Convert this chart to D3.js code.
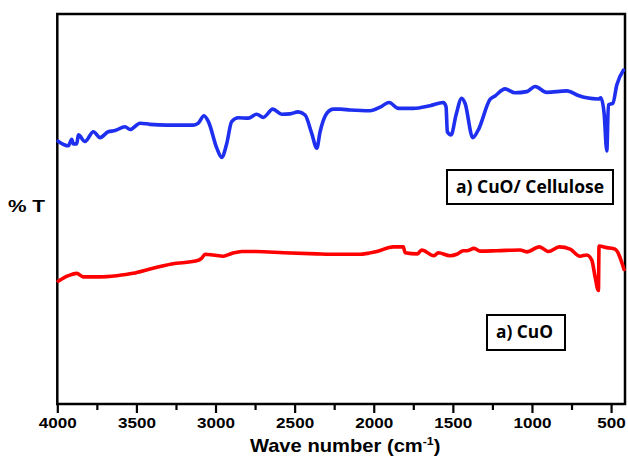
<!DOCTYPE html>
<html>
<head>
<meta charset="utf-8">
<script src="https://cdn.jsdelivr.net/npm/d3@7"></script>
<style>
  html, body { margin: 0; padding: 0; background: #fff; }
  svg { display: block; }
</style>
</head>
<body>
<svg id="chart" width="628" height="458"></svg>
<script>
// ---- data ----
const blueWave = [3995,3930,3909,3899,3877,3867,3825,3772,3730,3678,3635,3572,3540,3477,3414,3308,3140,3109,3073,3045,2992,2961,2929,2898,2856,2793,2740,2698,2638,2582,2529,2477,2434,2392,2360,2339,2297,2255,2213,2150,2023,1960,1903,1844,1750,1644,1560,1543,1535,1511,1480,1444,1423,1374,1339,1265,1233,1170,1107,1033,980,906,780,707,654,580,565,544,527,517,489,464,422];
const blueT = [67.4,66.2,67.9,66.7,66.7,69.0,67.3,69.8,68.3,69.8,70.1,71.1,70.4,72.0,71.7,71.5,71.5,72.0,73.9,72.4,65.6,63.2,66.8,72.4,73.4,73.3,74.3,73.5,75.6,74.3,74.4,74.9,74.1,69.4,65.6,69.8,74.5,75.6,75.6,75.4,75.2,76.1,77.3,75.8,75.8,76.5,77.3,76.2,69.8,69.0,74.1,78.4,77.1,68.3,70.3,78.1,79.0,80.8,79.8,80.1,81.4,79.9,80.3,79.1,78.5,78.2,78.5,74.5,64.9,76.7,77.1,81.8,85.6];

const redWave = [3994,3930,3877,3836,3730,3625,3520,3414,3277,3119,3087,3066,3014,2951,2898,2834,2740,2571,2360,2276,2087,1981,1876,1813,1802,1724,1697,1619,1592,1518,1475,1434,1412,1366,1328,1223,1075,1033,953,896,827,759,696,654,622,601,580,576,527,475,418];
const redT = [31.5,32.9,33.5,32.6,32.6,32.9,33.5,34.6,35.9,36.7,37.4,38.4,38.2,37.9,38.6,39.1,39.1,38.8,38.5,38.4,38.4,39.1,40.3,40.3,38.8,38.5,39.5,38.0,38.8,38.0,38.4,39.3,39.3,39.9,39.2,39.3,39.5,39.0,40.3,39.1,40.3,39.7,37.9,38.2,36.9,32.6,29.1,40.5,40.1,39.7,34.5];

const majorTicks = [4000,3500,3000,2500,2000,1500,1000,500];
const minorTicks = [3750,3250,2750,2250,1750,1250,750];
const xTitle = "Wave number (cm";
const yTitle = "% T";
const labelBlue = "a) CuO/ Cellulose";
const labelRed = "a) CuO";

// ---- layout ----
const svg = d3.select("#chart");
const pL = 57.3, pR = 625, pT = 14, pB = 404;

const x = d3.scaleLinear().domain([4000, 412]).range([pL, pR]);
const y = d3.scaleLinear().domain([0, 100]).range([pB, pT]);

// frame
svg.append("rect")
  .attr("x", pL).attr("y", pT)
  .attr("width", pR - pL).attr("height", pB - pT)
  .attr("fill", "none").attr("stroke", "#000").attr("stroke-width", 2.5);

// axes
const axMinor = d3.axisBottom(x).tickValues(minorTicks).tickSize(6).tickFormat("");
svg.append("g").attr("transform", `translate(0,${pB})`).call(axMinor)
  .call(g => g.select(".domain").remove())
  .call(g => g.selectAll("line").attr("stroke-width", 2.2));

const axMajor = d3.axisBottom(x).tickValues(majorTicks).tickSize(9).tickPadding(4).tickFormat(d3.format("d"));
svg.append("g").attr("transform", `translate(0,${pB})`).call(axMajor)
  .call(g => g.select(".domain").remove())
  .call(g => g.selectAll("line").attr("stroke-width", 2.2))
  .call(g => g.selectAll("text")
    .attr("font-family", "'Liberation Sans', Arial, sans-serif")
    .attr("font-weight", "bold")
    .attr("font-size", 15)
    .attr("fill", "#000")
    .attr("transform", "scale(1.14,1)"));

// x title
const tg = svg.append("g").attr("transform", `translate(${(pL + pR) / 2 + 4},452) scale(1.12,1)`);
const tt = tg.append("text")
  .attr("text-anchor", "middle")
  .attr("font-family", "'Liberation Sans', Arial, sans-serif")
  .attr("font-weight", "bold")
  .attr("font-size", 18)
  .attr("fill", "#000");
tt.append("tspan").text(xTitle);
tt.append("tspan").attr("dy", -7).attr("font-size", 11).text("-1");
tt.append("tspan").attr("dy", 7).text(")");

// y title
svg.append("text")
  .attr("x", 8).attr("y", 212)
  .attr("font-family", "'Liberation Sans', Arial, sans-serif")
  .attr("font-weight", "bold")
  .attr("font-size", 16)
  .attr("fill", "#000")
  .attr("textLength", 37).attr("lengthAdjust", "spacingAndGlyphs")
  .text(yTitle);

// lines
const line = d3.line().curve(d3.curveMonotoneX).x(d => x(d[0])).y(d => y(d[1]));
const blueData = blueWave.map((w, i) => [w, blueT[i]]);
const redData = redWave.map((w, i) => [w, redT[i]]);

svg.append("path").datum(blueData).attr("d", line)
  .attr("fill", "none").attr("stroke", "#1f2ff0").attr("stroke-width", 3.6)
  .attr("stroke-linejoin", "round").attr("stroke-linecap", "round");
svg.append("path").datum(redData).attr("d", line)
  .attr("fill", "none").attr("stroke", "#ff0000").attr("stroke-width", 3.6)
  .attr("stroke-linejoin", "round").attr("stroke-linecap", "round");

// label boxes
function labelBox(bx, by, bw, bh, tx, ty, tw, txt) {
  svg.append("rect").attr("x", bx).attr("y", by).attr("width", bw).attr("height", bh)
    .attr("fill", "#fff").attr("stroke", "#000").attr("stroke-width", 2);
  svg.append("text").attr("x", tx).attr("y", ty)
    .attr("font-family", "'Open Sans', 'Noto Sans', sans-serif")
    .attr("font-weight", "bold")
    .attr("font-size", 17)
    .attr("fill", "#000")
    .attr("textLength", tw).attr("lengthAdjust", "spacingAndGlyphs")
    .text(txt);
}
labelBox(447, 170, 166, 34, 456, 193, 148, labelBlue);
labelBox(487, 315, 78, 35, 496, 338, 57, labelRed);
</script>
</body>
</html>
